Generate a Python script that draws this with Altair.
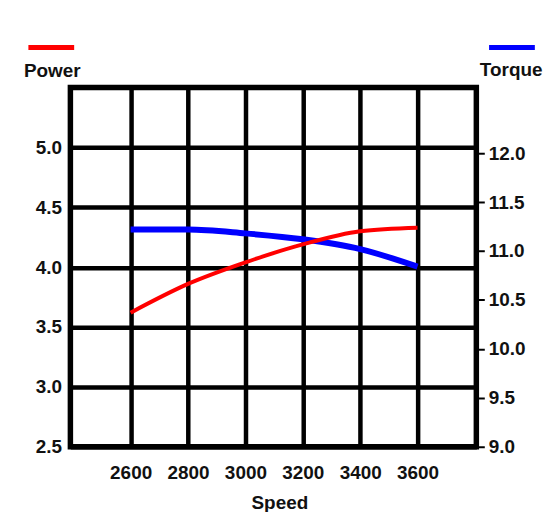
import altair as alt
import pandas as pd

# ---- data ----
speed = [2600, 2800, 3000, 3200, 3400, 3600]
power = [3.62, 3.86, 4.04, 4.19, 4.30, 4.33]
torque = [11.22, 11.22, 11.18, 11.12, 11.02, 10.84]

x_ticks = [2600, 2800, 3000, 3200, 3400, 3600]
power_ticks = [2.5, 3.0, 3.5, 4.0, 4.5, 5.0]
torque_ticks = [9.0, 9.5, 10.0, 10.5, 11.0, 11.5, 12.0]

df = pd.DataFrame({"Speed": speed, "Power": power, "Torque": torque})

FONT = "Liberation Sans"
TXT = "#111111"

x_enc = alt.X(
    "Speed:Q",
    scale=alt.Scale(domain=[2390, 3805], nice=False, zero=False),
    axis=alt.Axis(
        values=x_ticks, format="d", grid=True, gridColor="black", gridWidth=4.5,
        ticks=False, domain=False, labelPadding=32, labelBaseline="alphabetic",
        title="Speed", titleX=210, titleY=62, titleBaseline="alphabetic",
        titleAlign="center",
    ),
)

torque_layer = alt.Chart(df).transform_calculate(series="'Torque'").mark_line(
    strokeWidth=6, interpolate="monotone"
).encode(
    x=x_enc,
    y=alt.Y(
        "Torque:Q",
        scale=alt.Scale(domain=[9, 12.67], nice=False, zero=False),
        axis=alt.Axis(
            orient="right", values=torque_ticks, format=".1f", grid=False,
            ticks=True, tickSize=8, tickWidth=2, tickColor="black", domain=False,
            labelPadding=4, labelAlign="left",
            title="Torque", titleAngle=0, titleX=34.5, titleY=-12.5,
            titleBaseline="alphabetic", titleAlign="center",
        ),
    ),
    color=alt.Color(
        "series:N",
        scale=alt.Scale(domain=["Torque"], range=["#0000ff"]),
        legend=alt.Legend(
            orient="none", legendX=418.3, legendY=-65.7, title=None,
            labelExpr="''", symbolType="stroke", symbolSize=2116,
            symbolStrokeWidth=5, padding=0,
        ),
    ),
)

power_layer = alt.Chart(df).transform_calculate(series="'Power'").mark_line(
    strokeWidth=4, interpolate="monotone"
).encode(
    x=x_enc,
    y=alt.Y(
        "Power:Q",
        scale=alt.Scale(domain=[2.5, 5.5], nice=False, zero=False),
        axis=alt.Axis(
            orient="left", values=power_ticks, format=".1f", grid=True,
            gridColor="black", gridWidth=4.5, ticks=False, domain=False,
            labelPadding=9,
            title="Power", titleAngle=0, titleX=-18.7, titleY=-11.5,
            titleBaseline="alphabetic", titleAlign="center",
        ),
    ),
    color=alt.Color(
        "series:N",
        scale=alt.Scale(domain=["Power"], range=["#ff0000"]),
        legend=alt.Legend(
            orient="none", legendX=-44.7, legendY=-65.7, title=None,
            labelExpr="''", symbolType="stroke", symbolSize=2116,
            symbolStrokeWidth=5, padding=0,
        ),
    ),
)

chart = alt.layer(torque_layer, power_layer).resolve_scale(
    y="independent", color="independent"
).properties(
    width=408, height=361,
    autosize=alt.AutoSizeParams(type="none"),
    padding={"left": 62.7, "top": 78.7, "right": 68, "bottom": 64},
    background="white",
).configure(
    font=FONT,
).configure_view(
    stroke="black", strokeWidth=5.5,
).configure_axis(
    labelFont=FONT, labelFontSize=19, labelFontWeight="bold", labelColor=TXT,
    titleFont=FONT, titleFontSize=19, titleFontWeight="bold", titleColor=TXT,
)

chart.save("out.html", embed_options={"renderer": "svg", "actions": False})
